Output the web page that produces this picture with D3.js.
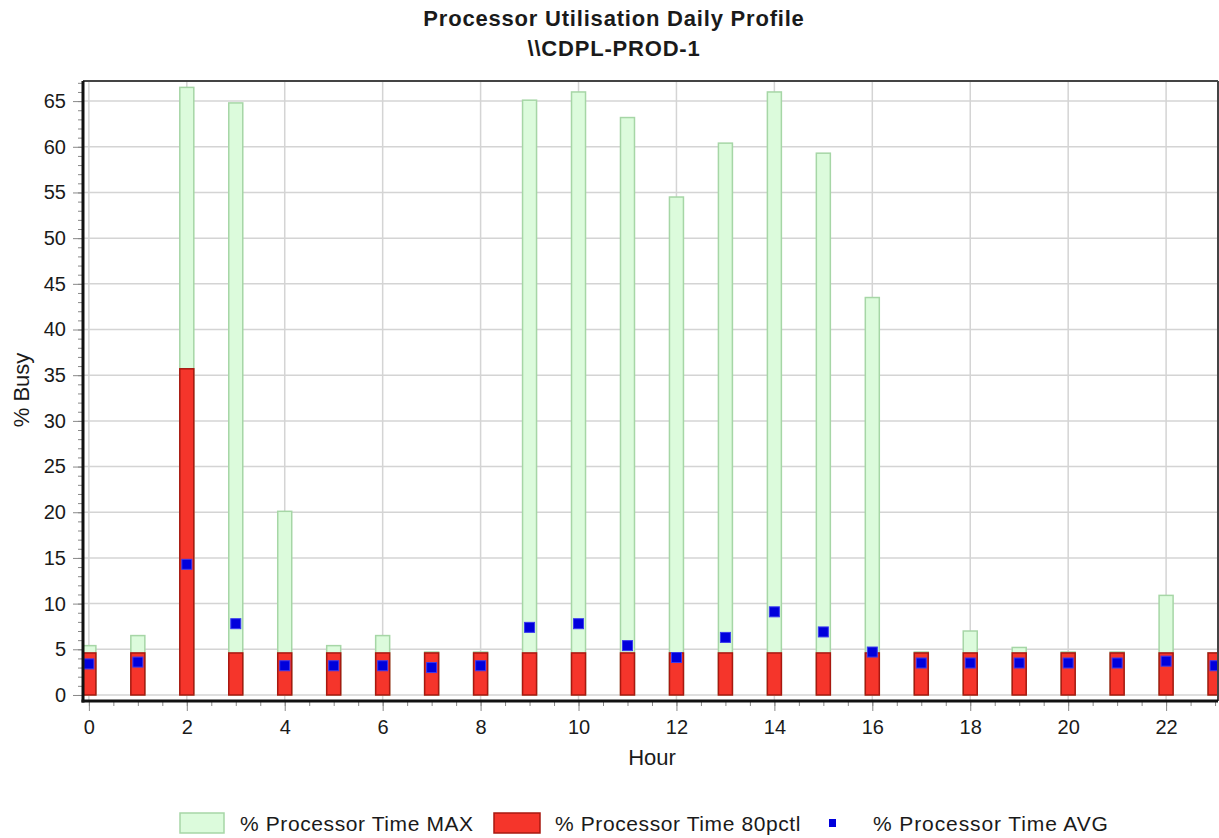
<!DOCTYPE html>
<html>
<head>
<meta charset="utf-8">
<script src="https://cdn.jsdelivr.net/npm/d3@7"></script>
<style>
  body { margin: 0; background: #fff; }
  text { font-family: "Liberation Sans", Arial, sans-serif; fill: #1a1a1a; }
</style>
</head>
<body>
<svg id="chart" width="1219" height="838"></svg>
<script>
const hours = [0, 1, 2, 3, 4, 5, 6, 7, 8, 9, 10, 11, 12, 13, 14, 15, 16, 17, 18, 19, 20, 21, 22, 23];
const maxVals = [5.4, 6.5, 66.5, 64.8, 20.1, 5.4, 6.5, 4.7, 4.7, 65.1, 66.0, 63.2, 54.5, 60.4, 66.0, 59.3, 43.5, 4.7, 7.0, 5.2, 4.7, 4.7, 10.9, 4.6];
const pctlVals = [4.6, 4.6, 35.7, 4.6, 4.6, 4.6, 4.6, 4.6, 4.6, 4.6, 4.6, 4.6, 4.6, 4.6, 4.6, 4.6, 4.6, 4.6, 4.6, 4.6, 4.6, 4.6, 4.6, 4.6];
const avgVals = [3.4, 3.6, 14.3, 7.8, 3.2, 3.2, 3.2, 3.0, 3.2, 7.4, 7.8, 5.4, 4.1, 6.3, 9.1, 6.9, 4.7, 3.5, 3.5, 3.5, 3.5, 3.5, 3.7, 3.2];
const yTicks = [0, 5, 10, 15, 20, 25, 30, 35, 40, 45, 50, 55, 60, 65];
const xTicks = [0, 2, 4, 6, 8, 10, 12, 14, 16, 18, 20, 22];
const seriesNames = ["% Processor Time MAX", "% Processor Time 80pctl", "% Processor Time AVG"];

const plotL = 83, plotR = 1218, plotT = 81, plotB = 701;
const barHalf = 0.143;

const svg = d3.select("#chart");
const x = d3.scaleLinear().domain([-0.12, 23.06]).range([plotL, plotR]);
const y = d3.scaleLinear().domain([-0.66, 67.2]).range([plotB, plotT]);

svg.append("defs").append("clipPath")
    .attr("id", "plotClip")
    .append("rect")
    .attr("x", plotL).attr("y", plotT)
    .attr("width", plotR - plotL).attr("height", plotB - plotT);

// grid
svg.append("g")
    .selectAll("line")
    .data(yTicks)
    .join("line")
    .attr("x1", plotL).attr("x2", plotR)
    .attr("y1", d => y(d)).attr("y2", d => y(d))
    .attr("stroke", "#d4d4d4").attr("stroke-width", 1.5);

svg.append("g")
    .selectAll("line")
    .data(xTicks)
    .join("line")
    .attr("x1", d => x(d)).attr("x2", d => x(d))
    .attr("y1", plotT).attr("y2", plotB)
    .attr("stroke", "#d4d4d4").attr("stroke-width", 1.5);

const plot = svg.append("g").attr("clip-path", "url(#plotClip)");

plot.selectAll("rect.max")
    .data(hours)
    .join("rect")
    .attr("class", "max")
    .attr("x", d => x(d - barHalf))
    .attr("width", d => x(d + barHalf) - x(d - barHalf))
    .attr("y", (d, i) => y(maxVals[i]))
    .attr("height", (d, i) => y(0) - y(maxVals[i]))
    .attr("fill", "#dcfbdc")
    .attr("stroke", "#a6d6a6")
    .attr("stroke-width", 1.5);

plot.selectAll("rect.pctl")
    .data(hours)
    .join("rect")
    .attr("class", "pctl")
    .attr("x", d => x(d - barHalf))
    .attr("width", d => x(d + barHalf) - x(d - barHalf))
    .attr("y", (d, i) => y(pctlVals[i]))
    .attr("height", (d, i) => y(0) - y(pctlVals[i]))
    .attr("fill", "#f5352b")
    .attr("stroke", "#a81810")
    .attr("stroke-width", 1.5);

plot.selectAll("rect.avg")
    .data(hours)
    .join("rect")
    .attr("class", "avg")
    .attr("x", d => x(d) - 5)
    .attr("y", (d, i) => y(avgVals[i]) - 5)
    .attr("width", 10).attr("height", 10)
    .attr("fill", "#0000dc")
    .attr("stroke", "#3a3af0")
    .attr("stroke-width", 1);

// frame
svg.append("line").attr("x1", plotL).attr("x2", plotR).attr("y1", plotT).attr("y2", plotT)
    .attr("stroke", "#444").attr("stroke-width", 2);
svg.append("line").attr("x1", plotR).attr("x2", plotR).attr("y1", plotT).attr("y2", plotB)
    .attr("stroke", "#444").attr("stroke-width", 2);

// axes
const yMinor = d3.range(0, 68);
const xMinor = d3.range(0, 47).map(d => d / 2);

svg.append("g")
    .attr("transform", `translate(${plotL},0)`)
    .call(d3.axisLeft(y).tickValues(yMinor).tickSize(5).tickFormat(""))
    .call(g => g.select(".domain").remove())
    .call(g => g.selectAll("line").attr("stroke", "#888"));

svg.append("g")
    .attr("transform", `translate(${plotL},0)`)
    .call(d3.axisLeft(y).tickValues(yTicks).tickSize(10).tickPadding(7))
    .call(g => g.select(".domain").remove())
    .call(g => g.selectAll("line").attr("stroke", "#888"))
    .call(g => g.selectAll("text").attr("font-size", 20));

svg.append("g")
    .attr("transform", `translate(0,${plotB})`)
    .call(d3.axisBottom(x).tickValues(xMinor).tickSize(5).tickFormat(""))
    .call(g => g.select(".domain").remove())
    .call(g => g.selectAll("line").attr("stroke", "#888"));

svg.append("g")
    .attr("transform", `translate(0,${plotB})`)
    .call(d3.axisBottom(x).tickValues(xTicks).tickSize(10).tickPadding(9))
    .call(g => g.select(".domain").remove())
    .call(g => g.selectAll("line").attr("stroke", "#888"))
    .call(g => g.selectAll("text").attr("font-size", 20));

svg.selectAll("g.tick text").attr("font-family", null);

svg.append("line").attr("x1", plotL).attr("x2", plotL).attr("y1", plotT).attr("y2", plotB + 1.5)
    .attr("stroke", "#111").attr("stroke-width", 3);
svg.append("line").attr("x1", plotL - 1.5).attr("x2", plotR).attr("y1", plotB).attr("y2", plotB)
    .attr("stroke", "#111").attr("stroke-width", 3);

// titles
svg.append("text").attr("x", 614).attr("y", 26)
    .attr("text-anchor", "middle").attr("font-size", 22).attr("font-weight", "bold")
    .attr("letter-spacing", 0.8)
    .text("Processor Utilisation Daily Profile");
svg.append("text").attr("x", 614).attr("y", 56)
    .attr("text-anchor", "middle").attr("font-size", 22).attr("font-weight", "bold")
    .attr("letter-spacing", 0.8)
    .text("\\\\CDPL-PROD-1");

svg.append("text").attr("x", 652).attr("y", 765)
    .attr("text-anchor", "middle").attr("font-size", 22)
    .text("Hour");
svg.append("text")
    .attr("transform", "translate(29,390) rotate(-90)")
    .attr("text-anchor", "middle").attr("font-size", 22)
    .text("% Busy");

// legend
const legend = svg.append("g").attr("transform", "translate(0,823)");
const legendX = [180, 494, 829];
const legendTextX = [240, 555, 873];

legend.append("rect").attr("x", legendX[0]).attr("y", -10).attr("width", 44).attr("height", 20)
    .attr("fill", "#dcfbdc").attr("stroke", "#a6d6a6").attr("stroke-width", 1.5);
legend.append("rect").attr("x", legendX[1]).attr("y", -10).attr("width", 46).attr("height", 20)
    .attr("fill", "#f5352b").attr("stroke", "#a81810").attr("stroke-width", 1.5);
legend.append("rect").attr("x", legendX[2]).attr("y", -4).attr("width", 7).attr("height", 8)
    .attr("fill", "#0000dc");

legend.selectAll("text")
    .data(seriesNames)
    .join("text")
    .attr("x", (d, i) => legendTextX[i])
    .attr("y", 8)
    .attr("font-size", 21)
    .attr("letter-spacing", (d, i) => i === 2 ? 0.9 : 0.6)
    .text(d => d);
</script>
</body>
</html>
